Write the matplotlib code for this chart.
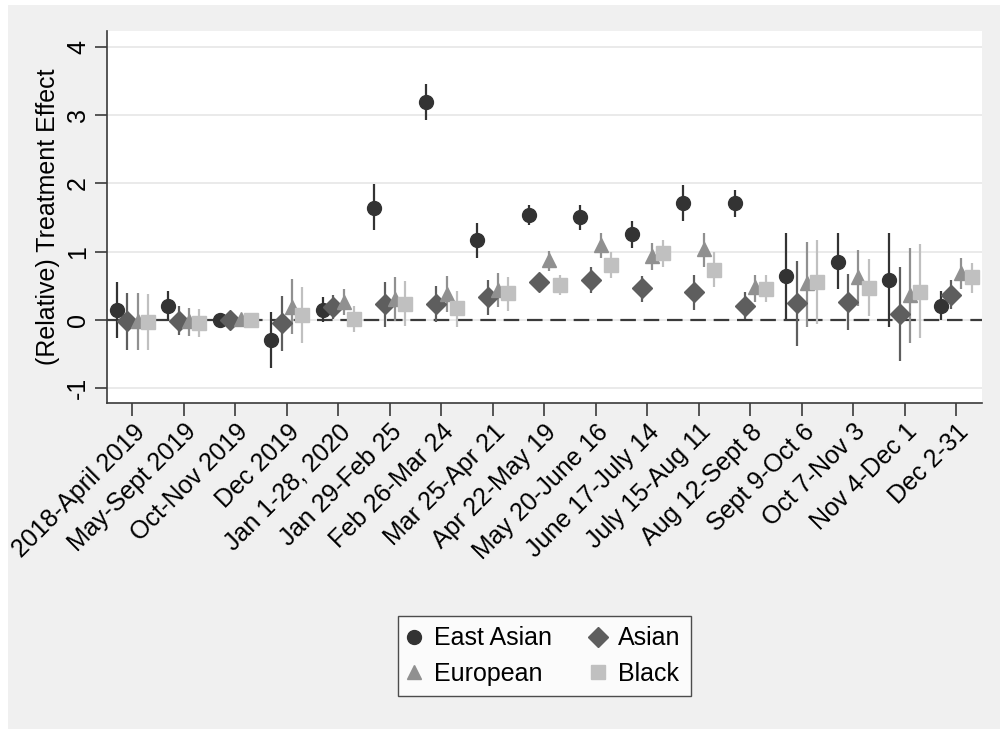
import matplotlib
matplotlib.use("Agg")
import matplotlib.pyplot as plt
import numpy as np
from matplotlib.patches import Rectangle

plt.rcParams['font.family'] = ['Liberation Sans', 'DejaVu Sans']

periods = ["2018-April 2019", "May-Sept 2019", "Oct-Nov 2019", "Dec 2019",
           "Jan 1-28, 2020", "Jan 29-Feb 25", "Feb 26-Mar 24", "Mar 25-Apr 21",
           "Apr 22-May 19", "May 20-June 16", "June 17-July 14", "July 15-Aug 11",
           "Aug 12-Sept 8", "Sept 9-Oct 6", "Oct 7-Nov 3", "Nov 4-Dec 1", "Dec 2-31"]

# East Asian
ea_est = [0.14, 0.21, 0.0, -0.29, 0.15, 1.64, 3.19, 1.17, 1.54, 1.50, 1.26, 1.71, 1.71, 0.64, 0.85, 0.59, 0.21]
ea_lo = [-0.27, 0.0, 0.0, -0.70, -0.03, 1.32, 2.92, 0.91, 1.39, 1.31, 1.06, 1.45, 1.50, 0.02, 0.45, -0.10, 0.00]
ea_hi = [0.55, 0.42, 0.0, 0.11, 0.34, 1.99, 3.46, 1.42, 1.68, 1.69, 1.45, 1.97, 1.90, 1.27, 1.27, 1.28, 0.42]

# Asian
as_est = [-0.02, -0.02, 0.0, -0.05, 0.19, 0.23, 0.23, 0.33, 0.55, 0.59, 0.47, 0.41, 0.21, 0.25, 0.27, 0.09, 0.37]
as_lo = [-0.44, -0.22, -0.02, -0.45, 0.02, -0.10, -0.03, 0.07, 0.48, 0.39, 0.27, 0.15, 0.01, -0.38, -0.15, -0.60, 0.16]
as_hi = [0.39, 0.20, 0.02, 0.35, 0.36, 0.56, 0.50, 0.58, 0.62, 0.77, 0.65, 0.66, 0.41, 0.87, 0.68, 0.77, 0.59]

# European
eu_est = [-0.02, -0.02, 0.02, 0.19, 0.26, 0.31, 0.38, 0.44, 0.88, 1.10, 0.94, 1.04, 0.48, 0.54, 0.63, 0.37, 0.69]
eu_lo = [-0.44, -0.23, 0.0, -0.21, 0.07, -0.02, 0.11, 0.19, 0.72, 0.91, 0.73, 0.77, 0.27, -0.10, 0.21, -0.33, 0.46]
eu_hi = [0.39, 0.18, 0.04, 0.60, 0.45, 0.63, 0.65, 0.69, 1.01, 1.28, 1.12, 1.28, 0.66, 1.14, 1.03, 1.05, 0.91]

# Black
bl_est = [-0.03, -0.04, 0.0, 0.08, 0.01, 0.24, 0.17, 0.39, 0.51, 0.81, 0.98, 0.73, 0.46, 0.55, 0.47, 0.41, 0.63]
bl_lo = [-0.44, -0.25, -0.01, -0.33, -0.17, -0.09, -0.10, 0.13, 0.37, 0.61, 0.78, 0.48, 0.27, -0.06, 0.06, -0.27, 0.40]
bl_hi = [0.38, 0.16, 0.01, 0.48, 0.21, 0.57, 0.43, 0.63, 0.66, 0.99, 1.17, 0.99, 0.66, 1.17, 0.89, 1.11, 0.84]

series = [
    ("East Asian", ea_est, ea_lo, ea_hi, 'o', '#333333', 10, -0.3),
    ("Asian", as_est, as_lo, as_hi, 'D', '#5e5e5e', 10, -0.1),
    ("European", eu_est, eu_lo, eu_hi, '^', '#909090', 10, 0.1),
    ("Black", bl_est, bl_lo, bl_hi, 's', '#c0c0c0', 9.5, 0.3),
]

fs = 18

fig = plt.figure(figsize=(10, 7.29), dpi=100, facecolor='white')
fig.patches.append(Rectangle((0.008, 0), 0.992, 0.993, transform=fig.transFigure,
                             facecolor='#f0f0f0', edgecolor='none', zorder=-10))
ax = fig.add_axes([0.1067, 0.4472, 0.982 - 0.1067, 0.9575 - 0.4472])
ax.set_facecolor('white')

x = np.arange(1, len(periods) + 1)

ax.axhline(0, color='#3a3a3a', lw=1.6, ls=(0, (7, 3.5)), zorder=1)

handles = {}
for name, est, lo, hi, mk, col, ms, off in series:
    est = np.array(est)
    xs = x + off
    ax.vlines(xs, lo, hi, color=col, lw=1.6, zorder=2)
    h, = ax.plot(xs, est, ls='none', marker=mk, ms=ms, color=col, mec=col, zorder=3)
    handles[name] = h

ax.set_xlim(0.5, 17.5)
ax.set_ylim(-1.215, 4.23)
ax.set_yticks([-1, 0, 1, 2, 3, 4])
ax.set_yticklabels(['-1', '0', '1', '2', '3', '4'], rotation=90, va='center', fontsize=fs)
ax.yaxis.grid(True, color='#e8e8e8', lw=1.3)
ax.set_axisbelow(True)
ax.set_xticks(x)
ax.set_xticklabels(periods, rotation=45, ha='right', rotation_mode='anchor', fontsize=fs)
ax.set_ylabel("(Relative) Treatment Effect", fontsize=fs, labelpad=4)

for s in ['top', 'right']:
    ax.spines[s].set_visible(False)
for s in ['left', 'bottom']:
    ax.spines[s].set_color('#3a3a3a')
    ax.spines[s].set_linewidth(1.2)
ax.tick_params(axis='both', length=9, width=1.2, color='#3a3a3a', pad=3)

order = ["East Asian", "European", "Asian", "Black"]
leg = fig.legend([handles[k] for k in order], order, loc='center', bbox_to_anchor=(0.5443, 0.1),
                 ncol=2, fontsize=fs, frameon=True, fancybox=False, edgecolor='#222222',
                 columnspacing=1.6, handletextpad=0.55, borderpad=0.4, handlelength=0.5,
                 labelspacing=0.45)
leg.get_frame().set_linewidth(1.0)

fig.savefig("out.png", dpi=100, facecolor=fig.get_facecolor())
